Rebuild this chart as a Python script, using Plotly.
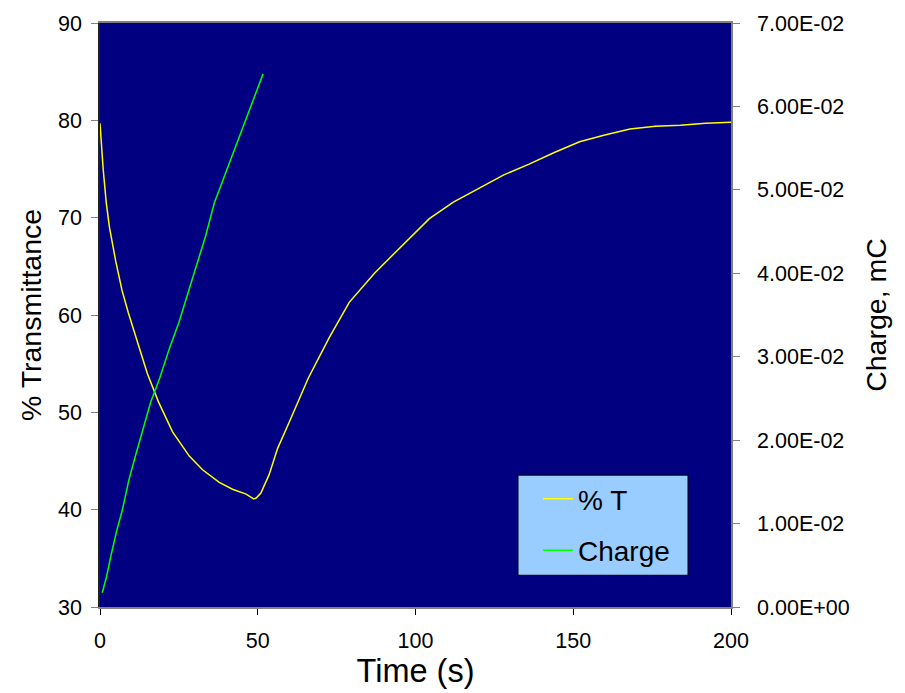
import plotly.graph_objects as go

# % Transmittance data
t_T = [0, 1, 2, 3, 5, 7, 9, 12, 15, 18.5, 23, 28.3, 32.5, 37.8, 42, 46.3, 48.7, 49.5, 51,
       53.6, 56.3, 60, 66, 72.7, 79, 87, 95, 104.4, 112, 120, 128, 136, 144, 152, 160,
       168, 176, 184, 192, 200]
T_vals = [79.7, 75, 71.5, 69, 65.5, 62.5, 60.2, 57, 54, 51.1, 48, 45.5, 44.1, 42.8, 42.1,
          41.6, 41.1, 41.2, 41.7, 43.6, 46.3, 49, 53.5, 57.7, 61.3, 64.3, 66.9, 69.9, 71.6,
          73, 74.4, 75.5, 76.7, 77.8, 78.5, 79.1, 79.4, 79.5, 79.7, 79.8]

# Charge data (mC)
t_C = [0.7, 2, 3.5, 5.3, 7, 9.2, 11, 13.4, 16.1, 19, 22, 25, 28, 31, 33.5, 36.2, 39, 42,
       45.7, 49.4, 51.7]
C_vals = [0.0017, 0.0035, 0.0062, 0.00915, 0.0115, 0.0153, 0.0178, 0.0210, 0.0246, 0.0275,
          0.031, 0.0341, 0.0378, 0.0415, 0.0445, 0.0484, 0.0512, 0.0543, 0.0581, 0.0618, 0.0639]

x_ticks = [0, 50, 100, 150, 200]
y_ticks = [30, 40, 50, 60, 70, 80, 90]
y2_ticks = [0, 0.01, 0.02, 0.03, 0.04, 0.05, 0.06, 0.07]
y2_labels = ["0.00E+00", "1.00E-02", "2.00E-02", "3.00E-02", "4.00E-02", "5.00E-02",
             "6.00E-02", "7.00E-02"]

FONT = "Liberation Sans, Arial, sans-serif"
TICK = 21.5

fig = go.Figure()
fig.add_trace(go.Scatter(x=t_T, y=T_vals, mode="lines", name="% T",
                         line=dict(color="#FFFF00", width=1.5), legendgroup="a"))
fig.add_trace(go.Scatter(x=t_C, y=C_vals, mode="lines", name="Charge", yaxis="y2",
                         line=dict(color="#00FF00", width=1.5), legendgroup="b"))

fig.update_layout(
    width=905, height=693,
    margin=dict(l=100, r=174, t=18, b=86),
    paper_bgcolor="white",
    plot_bgcolor="#000080",
    font=dict(family=FONT, color="black", size=TICK),
    xaxis=dict(range=[0, 200], tickvals=x_ticks, showgrid=False, zeroline=False,
               ticks="outside", ticklen=6, tickcolor="#000000", ticklabelstandoff=7,
               showline=True, linecolor="#808080", linewidth=1.5, mirror=True,
               title=dict(text="Time (s)", font=dict(size=32.5), standoff=6),
               tickfont=dict(size=TICK)),
    yaxis=dict(range=[30, 90], tickvals=y_ticks, showgrid=False, zeroline=False,
               ticks="outside", ticklen=7, tickcolor="#808080", ticklabelstandoff=5,
               showline=True, linecolor="#202020", linewidth=1.5,
               title=dict(text="% Transmittance", font=dict(size=28.5), standoff=8),
               tickfont=dict(size=TICK)),
    yaxis2=dict(range=[0, 0.07], tickvals=y2_ticks, ticktext=y2_labels, overlaying="y",
                side="right", showgrid=False, zeroline=False,
                ticks="outside", ticklen=7, tickcolor="#808080", ticklabelstandoff=13,
                showline=True, linecolor="#808080", linewidth=1.5,
                title=dict(text="Charge, mC", font=dict(size=28.5), standoff=17),
                tickfont=dict(size=TICK)),
    showlegend=True,
    legend=dict(x=(538 - 100) / 631, y=(607 - 473) / 589, xanchor="left", yanchor="top",
                bgcolor="rgba(0,0,0,0)", borderwidth=0,
                font=dict(size=28, family=FONT, color="black"),
                tracegroupgap=12, itemwidth=30),
    shapes=[dict(type="rect", xref="paper", yref="paper",
                 x0=(518 - 100) / 631, x1=(688 - 100) / 631,
                 y0=(607 - 575) / 589, y1=(607 - 474) / 589,
                 fillcolor="#99CCFF", line=dict(color="black", width=1), layer="above")],
)

fig.write_html("out.html")
